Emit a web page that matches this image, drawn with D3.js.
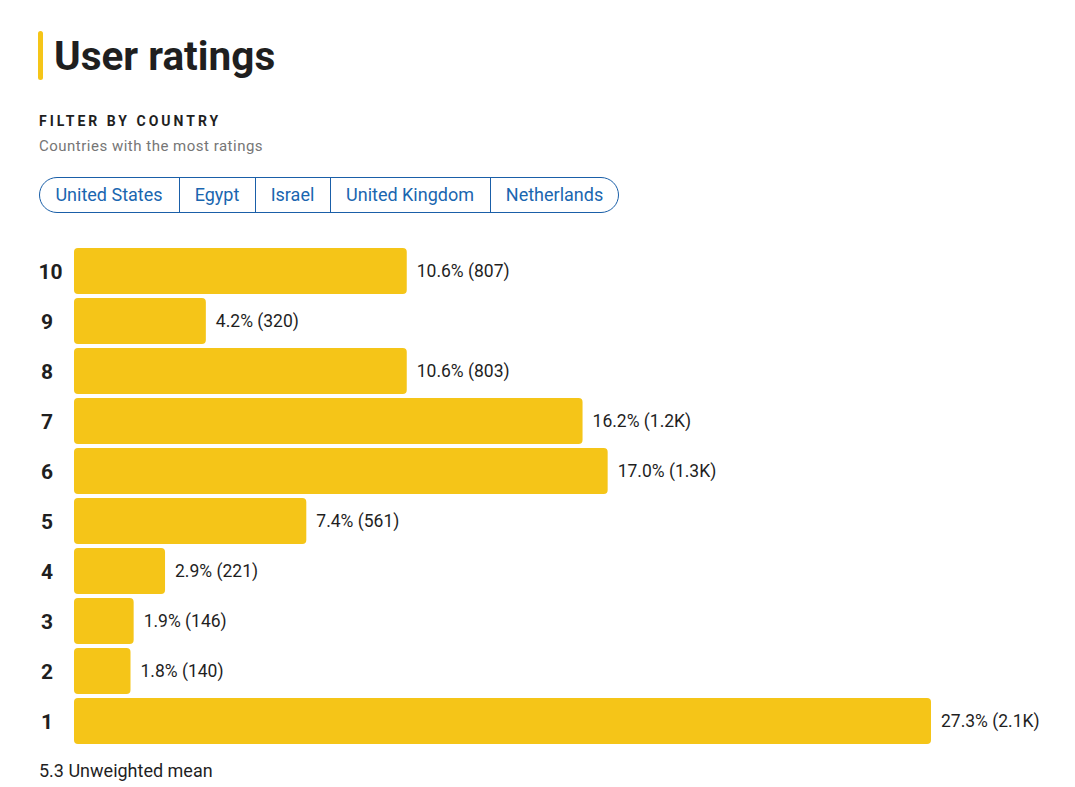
<!DOCTYPE html>
<html><head><meta charset="utf-8">
<script src="https://cdn.jsdelivr.net/npm/d3@7"></script>
<style>body{margin:0;background:#fff;font-family:Roboto,sans-serif;}</style>
</head><body><svg id="c" width="1075" height="787"></svg>
<script>
const ratings = ["10","9","8","7","6","5","4","3","2","1"];
const percents = [10.6,4.2,10.6,16.2,17.0,7.4,2.9,1.9,1.8,27.3];
const counts = ["807","320","803","1.2K","1.3K","561","221","146","140","2.1K"];
const countries = ["United States","Egypt","Israel","United Kingdom","Netherlands"];
const meanText = "5.3 Unweighted mean";

const svg = d3.select("#c");
const yellow = "#f5c518", blue = "#1a5fa8";

// title
svg.append("rect").attr("x",38).attr("y",31).attr("width",5).attr("height",49).attr("rx",2.5).attr("fill",yellow);
svg.append("text").attr("x",54).attr("y",70).attr("font-size",40.5).attr("font-weight",700).attr("fill","#1f1f1f").text("User ratings");
svg.append("text").attr("x",39).attr("y",126).attr("font-size",14).attr("font-weight",700).attr("letter-spacing",3).attr("fill","#1f1f1f").text("FILTER BY COUNTRY");
svg.append("text").attr("x",39).attr("y",151).attr("font-size",15).attr("fill","#767676").attr("letter-spacing",0.5).text("Countries with the most ratings");

// buttons
const bounds = [39,179,255,330,490,619];
const by=177.5, bh=35, r=17.5;
const bx0=39.5, bx1=618.5;
svg.append("path").attr("fill","none").attr("stroke",blue).attr("stroke-width",1)
  .attr("d",`M${bx0+r},${by} H${bx1-r} A${r},${r} 0 0 1 ${bx1-r},${by+bh} H${bx0+r} A${r},${r} 0 0 1 ${bx0+r},${by}Z`);
countries.forEach((c,i)=>{
  if(i>0) svg.append("line").attr("x1",bounds[i]+0.5).attr("x2",bounds[i]+0.5).attr("y1",by).attr("y2",by+bh).attr("stroke",blue);
  svg.append("text").attr("x",(bounds[i]+bounds[i+1])/2).attr("y",201).attr("text-anchor","middle")
    .attr("font-size",18).attr("fill","#1a66b0").text(c);
});

// bars
const x = d3.scaleLinear().domain([0,27.3]).range([74,931]);
const y = d3.scaleBand().domain(ratings).range([246,746]).paddingInner(0.08).paddingOuter(0.04);
const data = ratings.map((r,i)=>({r,p:percents[i],c:counts[i]}));
const g = svg.append("g");
g.selectAll("rect.bar").data(data).join("rect").attr("class","bar")
  .attr("x",x(0)).attr("y",d=>y(d.r)).attr("width",d=>x(d.p)-x(0)).attr("height",y.bandwidth())
  .attr("rx",4).attr("fill",yellow);
g.selectAll("text.lab").data(data).join("text").attr("class","lab")
  .attr("x",d=>d.r.length>1?38.5:41).attr("y",d=>y(d.r)+y.bandwidth()/2+7.5).attr("font-size",21).attr("font-weight",700).attr("fill","#1f1f1f").text(d=>d.r);
g.selectAll("text.val").data(data).join("text").attr("class","val")
  .attr("x",d=>x(d.p)+10).attr("y",d=>y(d.r)+y.bandwidth()/2+6).attr("font-size",17.5).attr("fill","#1f1f1f")
  .text(d=>`${d.p.toFixed(1)}% (${d.c})`);

svg.append("text").attr("x",39).attr("y",777).attr("font-size",18).attr("fill","#1f1f1f").text(meanText);
</script></body></html>
